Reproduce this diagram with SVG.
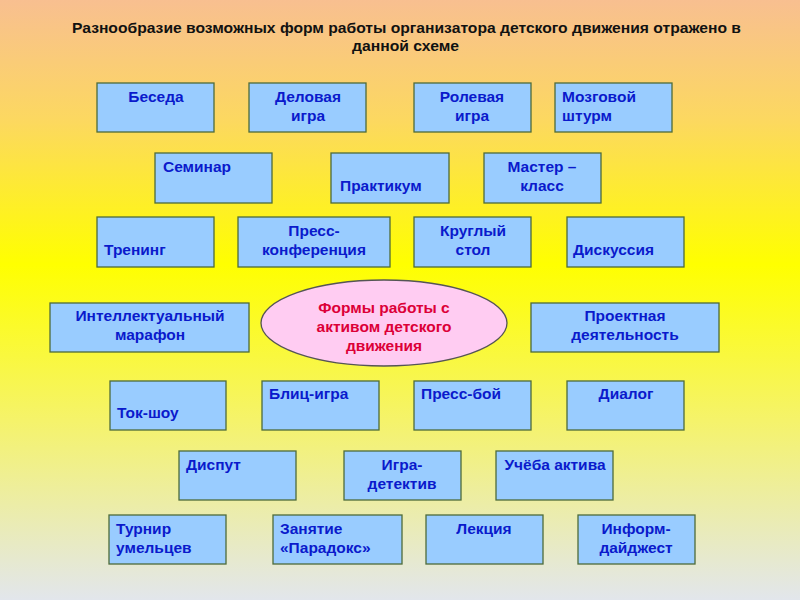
<svg xmlns="http://www.w3.org/2000/svg" width="800" height="600" viewBox="0 0 800 600">
<defs>
<linearGradient id="bg" x1="0" y1="0" x2="0" y2="1">
<stop offset="0" stop-color="#F8BF90"/>
<stop offset="0.2" stop-color="#FCD860"/>
<stop offset="0.44" stop-color="#FFFF00"/>
<stop offset="0.7" stop-color="#F5F36A"/>
<stop offset="1" stop-color="#E2E6EC"/>
</linearGradient>
<style>
.b{fill:#99CCFF;stroke:#4E6B3A;stroke-width:1.3}
.t{font-family:"Liberation Sans",Arial,sans-serif;font-weight:bold;font-size:15.5px;fill:#0A1ACC}
.c{text-anchor:middle}
.h{font-family:"Liberation Sans",Arial,sans-serif;font-weight:bold;font-size:14px;fill:#111}
.e{fill:#FFCCF2;stroke:#555;stroke-width:1.3}
.r{font-family:"Liberation Sans",Arial,sans-serif;font-weight:bold;font-size:15.5px;fill:#DC0038;text-anchor:middle}
</style>
</defs>
<rect width="800" height="600" fill="url(#bg)"/>
<g id="title">
<text class="h" x="72" y="33" textLength="669" lengthAdjust="spacingAndGlyphs">Разнообразие возможных форм работы организатора детского движения отражено в</text>
<text class="h" x="352" y="51" textLength="107" lengthAdjust="spacingAndGlyphs">данной схеме</text>
</g>
<g id="connectors"/>
<g id="n1"><rect class="b" x="97" y="83" width="117" height="49"/><text class="t c" x="156" y="102">Беседа</text></g>
<g id="n2"><rect class="b" x="249" y="83" width="117" height="49"/><text class="t c" x="308" y="102">Деловая</text><text class="t c" x="308" y="121">игра</text></g>
<g id="n3"><rect class="b" x="414" y="83" width="117" height="49"/><text class="t c" x="472" y="102">Ролевая</text><text class="t c" x="472" y="121">игра</text></g>
<g id="n4"><rect class="b" x="555" y="83" width="117" height="49"/><text class="t" x="562" y="102">Мозговой</text><text class="t" x="562" y="121">штурм</text></g>
<g id="n5"><rect class="b" x="155" y="153" width="117" height="50"/><text class="t" x="163" y="172">Семинар</text></g>
<g id="n6"><rect class="b" x="331" y="153" width="118" height="50"/><text class="t" x="340" y="191">Практикум</text></g>
<g id="n7"><rect class="b" x="484" y="153" width="117" height="50"/><text class="t c" x="542" y="172">Мастер –</text><text class="t c" x="542" y="191">класс</text></g>
<g id="n8"><rect class="b" x="97" y="217" width="117" height="50"/><text class="t" x="104" y="255">Тренинг</text></g>
<g id="n9"><rect class="b" x="238" y="217" width="152" height="50"/><text class="t c" x="314" y="236">Пресс-</text><text class="t c" x="314" y="255">конференция</text></g>
<g id="n10"><rect class="b" x="414" y="217" width="117" height="50"/><text class="t c" x="473" y="236">Круглый</text><text class="t c" x="473" y="255">стол</text></g>
<g id="n11"><rect class="b" x="567" y="217" width="117" height="50"/><text class="t" x="573" y="255">Дискуссия</text></g>
<g id="n12"><rect class="b" x="50" y="303" width="199" height="49"/><text class="t c" x="150" y="321">Интеллектуальный</text><text class="t c" x="150" y="340">марафон</text></g>
<g id="center"><ellipse class="e" cx="384" cy="323" rx="123" ry="43"/><text class="r" x="384" y="313">Формы работы с</text><text class="r" x="384" y="332">активом детского</text><text class="r" x="384" y="351">движения</text></g>
<g id="n13"><rect class="b" x="531" y="303" width="188" height="49"/><text class="t c" x="625" y="321">Проектная</text><text class="t c" x="625" y="340">деятельность</text></g>
<g id="n14"><rect class="b" x="110" y="381" width="116" height="49"/><text class="t" x="117" y="418">Ток-шоу</text></g>
<g id="n15"><rect class="b" x="262" y="381" width="117" height="49"/><text class="t" x="269" y="399">Блиц-игра</text></g>
<g id="n16"><rect class="b" x="414" y="381" width="117" height="49"/><text class="t" x="421" y="399">Пресс-бой</text></g>
<g id="n17"><rect class="b" x="567" y="381" width="117" height="49"/><text class="t c" x="626" y="399">Диалог</text></g>
<g id="n18"><rect class="b" x="179" y="451" width="117" height="49"/><text class="t" x="186" y="470">Диспут</text></g>
<g id="n19"><rect class="b" x="344" y="451" width="117" height="49"/><text class="t c" x="402" y="470">Игра-</text><text class="t c" x="402" y="489">детектив</text></g>
<g id="n20"><rect class="b" x="496" y="451" width="117" height="49"/><text class="t c" x="555" y="470">Учёба актива</text></g>
<g id="n21"><rect class="b" x="109" y="515" width="117" height="49"/><text class="t" x="116" y="534">Турнир</text><text class="t" x="116" y="553">умельцев</text></g>
<g id="n22"><rect class="b" x="273" y="515" width="129" height="49"/><text class="t" x="280" y="534">Занятие</text><text class="t" x="280" y="553">«Парадокс»</text></g>
<g id="n23"><rect class="b" x="426" y="515" width="117" height="49"/><text class="t c" x="484" y="534">Лекция</text></g>
<g id="n24"><rect class="b" x="578" y="515" width="117" height="49"/><text class="t c" x="636" y="534">Информ-</text><text class="t c" x="636" y="553">дайджест</text></g>
</svg>
